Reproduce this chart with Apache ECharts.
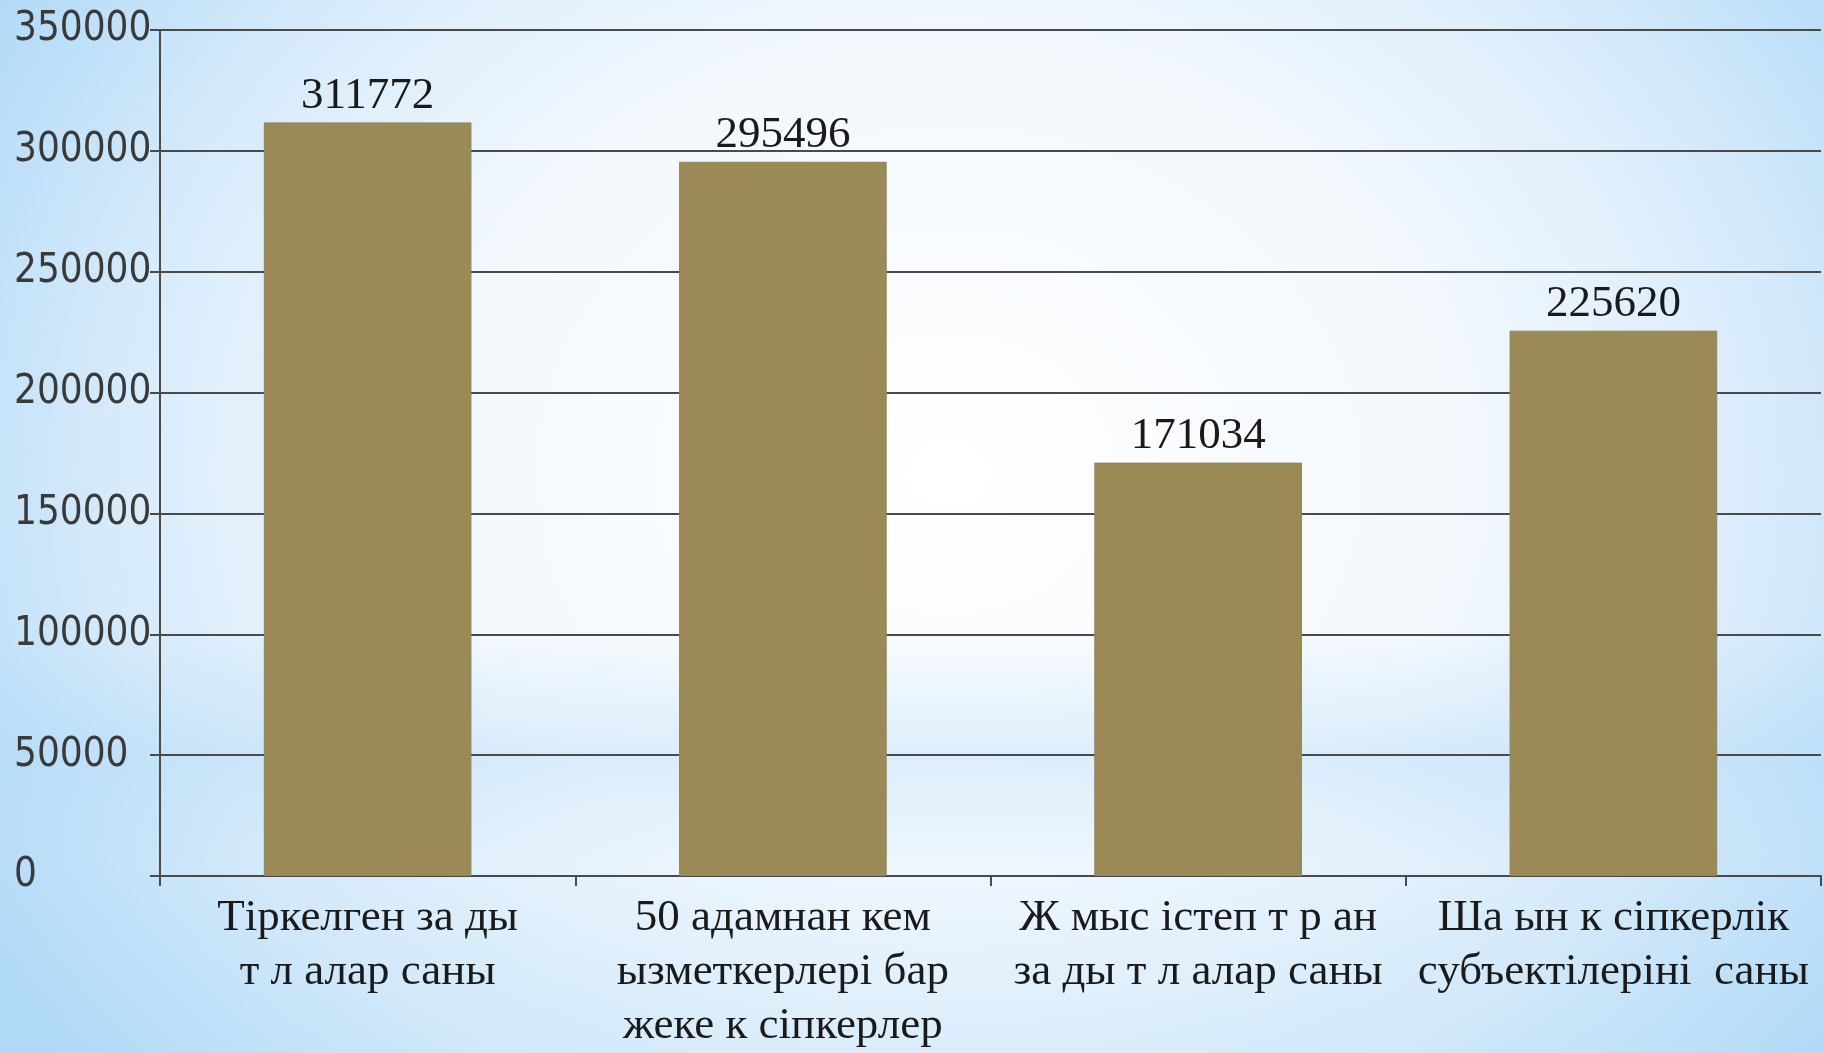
<!DOCTYPE html>
<html>
<head>
<meta charset="utf-8">
<script src="https://cdn.jsdelivr.net/npm/echarts@6/dist/echarts.min.js"></script>
<style>
  html, body { margin: 0; padding: 0; }
  #chart {
    width: 1824px; height: 1053px;
    background:
      linear-gradient(180deg, rgba(180,220,248,0) 0%, rgba(180,220,248,0) 60%, rgba(170,214,246,0.35) 72%, rgba(180,220,248,0.1) 82%, rgba(180,220,248,0.2) 100%),
      radial-gradient(ellipse 62% 90% at 52% 45%, #ffffff 0%, #f3f8fd 45%, #d9ecfb 72%, #aed8f7 100%);
  }
</style>
</head>
<body>
<div id="chart"></div>
<script>
const categories = [
  "Тіркелген за ды\nт л алар саны",
  "50 адамнан кем\nызметкерлері бар\nжеке к сіпкерлер",
  "Ж мыс істеп т р ан\nза ды т л алар саны",
  "Ша ын к сіпкерлік\nсубъектілеріні  саны"
];
const values = [311772, 295496, 171034, 225620];
const yTicks = { min: 0, max: 350000, interval: 50000 };

const chart = echarts.init(document.getElementById('chart'));
chart.setOption({
  backgroundColor: 'transparent',
  animation: false,
  grid: { left: 160, right: 3, top: 30, bottom: 177, containLabel: false },
  xAxis: {
    type: 'category',
    data: categories,
    axisLine: { show: true, lineStyle: { color: '#4a4a4a', width: 2 } },
    axisTick: { show: true, alignWithLabel: false, length: 10, lineStyle: { color: '#4a4a4a', width: 2 } },
    axisLabel: {
      interval: 0,
      margin: 15,
      fontFamily: 'Liberation Serif',
      fontSize: 45,
      lineHeight: 54,
      color: '#1a1a1a'
    }
  },
  yAxis: {
    type: 'value',
    min: yTicks.min, max: yTicks.max, interval: yTicks.interval,
    axisLine: { show: true, lineStyle: { color: '#4a4a4a', width: 2 } },
    axisTick: { show: true, length: 10, lineStyle: { color: '#4a4a4a', width: 2 } },
    splitLine: { show: true, lineStyle: { color: '#4a4a4a', width: 2 } },
    axisLabel: {
      align: 'left',
      margin: 146,
      padding: [8, 0, 0, 0],
      fontFamily: 'DejaVu Sans Condensed',
      fontSize: 40,
      color: '#3a3a3a',
      formatter: function (v) { return String(v); }
    }
  },
  series: [{
    type: 'bar',
    data: values,
    barCategoryGap: '50%',
    itemStyle: { color: '#9b8a56', borderColor: '#8c8468', borderWidth: 1 },
    label: {
      show: true,
      position: 'top',
      distance: 4,
      fontFamily: 'Liberation Serif',
      fontSize: 45,
      color: '#1a1a1a'
    }
  }]
});
</script>
</body>
</html>
